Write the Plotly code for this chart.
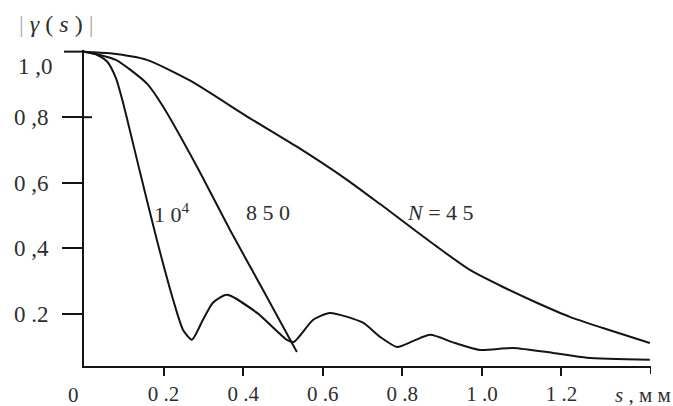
import plotly.graph_objects as go

# N = 45 curve
s_45 = [0.0, 0.065, 0.158, 0.266, 0.410, 0.535, 0.661, 0.744, 0.887, 0.970, 1.053, 1.138, 1.221, 1.304, 1.422]
g_45 = [1.0, 0.995, 0.975, 0.912, 0.802, 0.710, 0.609, 0.535, 0.405, 0.334, 0.282, 0.234, 0.191, 0.157, 0.111]

# N = 850 curve
s_850 = [0.0, 0.040, 0.080, 0.116, 0.160, 0.199, 0.284, 0.367, 0.450, 0.535]
g_850 = [1.0, 0.990, 0.975, 0.945, 0.900, 0.832, 0.649, 0.456, 0.273, 0.084]

# N = 10^4 curve
s_1e4 = [0.0, 0.030, 0.058, 0.080, 0.098, 0.141, 0.183, 0.224, 0.249, 0.271, 0.299, 0.324, 0.359,
         0.435, 0.510, 0.528, 0.576, 0.618, 0.701, 0.744, 0.787, 0.827, 0.870, 0.932, 0.995,
         1.078, 1.179, 1.264, 1.422]
g_1e4 = [1.0, 0.992, 0.970, 0.920, 0.845, 0.631, 0.426, 0.243, 0.151, 0.121, 0.182, 0.234, 0.258,
         0.203, 0.121, 0.115, 0.182, 0.203, 0.173, 0.130, 0.099, 0.117, 0.136, 0.111, 0.090,
         0.096, 0.081, 0.066, 0.060]

x_tickvals = [0.2, 0.4, 0.6, 0.8, 1.0, 1.2]
x_ticktext = ["0 .2", "0 .4", "0 .6", "0 .8", "1 .0", "1 .2"]
y_tickvals = [0.2, 0.4, 0.6, 0.8]
y_ticktext = ["0 .2", "0 ,4", "0 ,6", "0 ,8"]

TXT = "#2e2e2e"
FONT = "Liberation Serif, Times New Roman, serif"
LC = "#141414"

fig = go.Figure()
for xs, ys in [(s_45, g_45), (s_850, g_850), (s_1e4, g_1e4)]:
    fig.add_trace(go.Scatter(x=xs, y=ys, mode="lines",
                             line=dict(color=LC, width=2, shape="spline", smoothing=0.6),
                             showlegend=False, hoverinfo="skip"))

fig.update_layout(
    width=673, height=406,
    margin=dict(l=84, r=22, t=50, b=40),
    paper_bgcolor="white", plot_bgcolor="white",
    font=dict(family=FONT, size=22, color=TXT),
    xaxis=dict(range=[0, 1.425], showgrid=False, zeroline=False, showline=True, automargin=False,
               linecolor=LC, linewidth=2, ticks="outside", ticklen=8, tickwidth=2,
               tickcolor=LC, tickvals=x_tickvals, ticktext=x_ticktext,
               tickfont=dict(family=FONT, size=21, color=TXT), ticklabelstandoff=0),
    yaxis=dict(range=[0.041, 1.005], showgrid=False, zeroline=False, showline=True, automargin=False,
               linecolor=LC, linewidth=2, ticks="outside", ticklen=20, tickwidth=2,
               tickcolor=LC, tickvals=y_tickvals, ticktext=y_ticktext,
               tickfont=dict(family=FONT, size=23, color=TXT), ticklabelstandoff=9),
)

# tick at 1.0 on y, inward extension of 0.8 tick, end tick on x
fig.add_shape(type="line", xref="paper", yref="y", x0=-20/567, x1=0, y0=1.0, y1=1.0,
              line=dict(color=LC, width=2))
fig.add_shape(type="line", xref="paper", yref="y", x0=0, x1=0.014, y0=0.8, y1=0.8,
              line=dict(color=LC, width=2))
fig.add_shape(type="line", xref="x", yref="paper", x0=1.425, x1=1.425, y0=0, y1=-8/316,
              line=dict(color=LC, width=2))

ann = [
    dict(text="1 ,0", xref="paper", yref="y", x=0, y=1.0, xanchor="right", yanchor="middle",
         xshift=-29, yshift=-15),
    dict(text="0", xref="paper", yref="paper", x=0, y=0, xanchor="center", yanchor="middle",
         xshift=-11, yshift=-29, font=dict(size=21)),
    dict(text="<i>s</i> , м м", xref="paper", yref="paper", x=1, y=0, xanchor="right",
         yanchor="middle", xshift=22, yshift=-29, font=dict(size=21)),
    dict(text="<span style='color:#aaaaaa'>|</span> <i>γ</i> ( <i>s</i> ) <span style='color:#aaaaaa'>|</span>",
         xref="paper", yref="paper", x=0, y=1, xanchor="center", yanchor="middle",
         xshift=-28, yshift=26, font=dict(size=24)),
    dict(text="1 0<sup>4</sup>", xref="x", yref="y", x=0.221, y=0.508, xanchor="center",
         yanchor="middle", font=dict(size=22)),
    dict(text="8 5 0", xref="x", yref="y", x=0.462, y=0.508, xanchor="center",
         yanchor="middle", font=dict(size=22)),
    dict(text="<i>N</i> = 4 5", xref="x", yref="y", x=0.897, y=0.508, xanchor="center",
         yanchor="middle", font=dict(size=22)),
]
for a in ann:
    a.setdefault("showarrow", False)
    a.setdefault("font", dict(size=23))
    a["font"].setdefault("family", FONT)
    a["font"].setdefault("color", TXT)
    fig.add_annotation(**a)

fig.write_html("out.html", config={"displayModeBar": False, "staticPlot": True},
               post_script="document.body.style.margin='0';document.body.style.padding='0';"
                           "document.body.style.overflow='hidden';")
